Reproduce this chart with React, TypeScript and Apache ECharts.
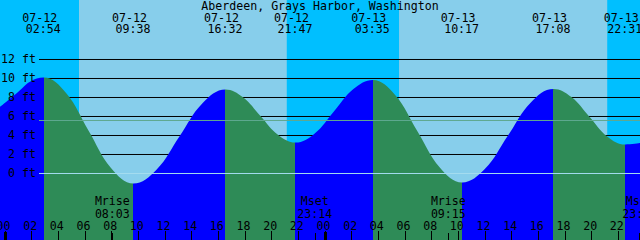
import React, { useEffect, useRef } from 'react';
import * as echarts from 'echarts';

// ---- data ----
const TITLE = 'Aberdeen, Grays Harbor, Washington';
const DATES = ['07-12', '07-13'];

// tide extremes
const TIDE_DAY = [0, 0, 0, 0, 1, 1, 1, 1];
const TIDE_CLOCK = ['02:54', '09:38', '16:32', '21:47', '03:35', '10:17', '17:08', '22:31'];
const TIDE_FT = [10.1, -1.05, 8.85, 3.25, 9.85, -0.95, 8.9, 3.05];
const TIDE_KIND = ['high', 'low', 'high', 'low', 'high', 'low', 'high', 'low'];

// further readings of the curve (hours from 07-12 00:00, feet)
const CURVE_T = [
  -0.375, 1.0, 1.875,
  4.58, 6.27, 7.95,
  11.36, 13.08, 14.81,
  17.85, 19.16, 20.47,
  23.23, 24.68, 26.13,
  29.26, 30.93, 32.61,
  36.0, 37.71, 39.42,
  42.48, 43.83, 45.17,
  47.625,
];
const CURVE_FT = [
  7.0, 8.6, 9.66,
  8.47, 4.5, 0.58,
  0.4, 3.9, 7.4,
  8.03, 6.05, 4.07,
  4.21, 6.55, 8.89,
  8.27, 4.45, 0.63,
  0.49, 3.97, 7.46,
  8.05, 5.98, 3.9,
  3.2,
];

// sun (day / night bands)
const SUN_DAY = [0, 0, 1, 1];
const SUN_CLOCK = ['05:33', '21:08', '05:34', '21:10'];

// moon events
const MOON_LABEL = ['Mrise', 'Mset', 'Mrise', 'Mset'];
const MOON_DAY = [0, 0, 1, 1];
const MOON_CLOCK = ['08:03', '23:14', '09:15', '23:36'];

// axis ticks
const HOUR_TICKS = [0, 2, 4, 6, 8, 10, 12, 14, 16, 18, 20, 22, 24, 26, 28, 30, 32, 34, 36, 38, 40, 42, 44, 46, 48];
const MIDNIGHT_TICKS = [0, 24];
const FT_TICKS = [0, 2, 4, 6, 8, 10, 12];
const GRID_FT = [2, 4, 6, 8, 10, 12];
const MEAN_FT = 5.58;
const DATUM_FT = 0;

// ---- layout / style constants ----
const X_MIN = -0.375;
const X_MAX = 47.625;
const Y_MIN = -7;
const Y_MAX = 18.263;
const LINE_START = 2.55; // hours, where level lines begin (right of the ft labels)
const FONT = 'DejaVu Sans Mono';
const FS = 11.6;
const NIGHT = '#00bfff';
const DAY = '#87ceeb';
const RISE = '#0000ff';
const FALL = '#2e8b57';

const toH = (day: number, clock: string) => {
  const [h, m] = clock.split(':').map(Number);
  return day * 24 + h + m / 60;
};

const TIDE_T = TIDE_CLOCK.map((c, i) => toH(TIDE_DAY[i], c));
const SUN_T = SUN_CLOCK.map((c, i) => toH(SUN_DAY[i], c));
const MOON_T = MOON_CLOCK.map((c, i) => toH(MOON_DAY[i], c));

const curve: [number, number][] = [
  ...TIDE_T.map((t, i) => [t, TIDE_FT[i]] as [number, number]),
  ...CURVE_T.map((t, i) => [t, CURVE_FT[i]] as [number, number]),
].sort((a, b) => a[0] - b[0]);

// rising (blue) / falling (green) pieces
const pieces: any[] = [];
TIDE_T.forEach((t, i) => {
  const before = TIDE_KIND[i] === 'high' ? RISE : FALL;
  if (i === 0) pieces.push({ lt: t, color: before });
  else pieces.push({ gte: TIDE_T[i - 1], lt: t, color: before });
  if (i === TIDE_T.length - 1) pieces.push({ gte: t, color: TIDE_KIND[i] === 'high' ? FALL : RISE });
});

// day / night bands
const bandEdges = [X_MIN, ...SUN_T, X_MAX];
const bands: any[] = [];
for (let i = 0; i < bandEdges.length - 1; i++) {
  bands.push([
    { xAxis: bandEdges[i], itemStyle: { color: i % 2 === 0 ? NIGHT : DAY } },
    { xAxis: bandEdges[i + 1] },
  ]);
}

const findIdx = (arr: number[], v: number) => arr.findIndex((t) => Math.abs(t - v) < 1e-6);
const pad2 = (n: number) => String(n).padStart(2, '0');

const baseX = {
  type: 'value',
  min: X_MIN,
  max: X_MAX,
  axisLine: { show: false, onZero: false },
  splitLine: { show: false },
  z: 10,
};

const textBase = { fontFamily: FONT, fontSize: FS, color: '#000' };

const levelLine = (v: number, color: string, z: number) => ({
  type: 'line',
  data: [[LINE_START, v], [X_MAX, v]],
  silent: true,
  clip: false,
  symbol: 'none',
  z,
  lineStyle: { color, width: 1, type: 'solid' },
});

const gridSeries = GRID_FT.map((v) => levelLine(v, '#000', 2));
const TIDE_INDEX = 1 + gridSeries.length;

const option: any = {
  animation: false,
  backgroundColor: DAY,
  title: {
    text: TITLE,
    left: 'center',
    top: 0,
    padding: 0,
    textStyle: { ...textBase, fontWeight: 'normal', lineHeight: 11 },
    z: 20,
  },
  grid: { left: 0, right: 0, top: 0, bottom: 0, containLabel: false, outerBoundsMode: 'none' },
  xAxis: [
    {
      ...baseX,
      position: 'bottom',
      axisTick: { show: true, inside: true, length: 9, customValues: HOUR_TICKS, lineStyle: { color: '#000', width: 1 } },
      axisLabel: {
        show: true,
        inside: true,
        margin: 8,
        customValues: HOUR_TICKS,
        ...textBase,
        lineHeight: 12,
        padding: [0, 3, 0, 0],
        formatter: (v: number) => pad2(((Math.round(v) % 24) + 24) % 24),
      },
    },
    {
      ...baseX,
      position: 'bottom',
      axisTick: { show: true, inside: true, length: 8, customValues: MIDNIGHT_TICKS, lineStyle: { color: '#000', width: 3 } },
      axisLabel: { show: false },
    },
    {
      ...baseX,
      position: 'bottom',
      axisTick: { show: true, inside: true, length: 7, customValues: MOON_T, lineStyle: { color: '#000', width: 1 } },
      axisLabel: {
        show: true,
        inside: true,
        margin: 20,
        customValues: MOON_T,
        ...textBase,
        lineHeight: 12.5,
        formatter: (v: number) => {
          const i = findIdx(MOON_T, v);
          return i < 0 ? '' : MOON_LABEL[i] + '\n' + MOON_CLOCK[i];
        },
      },
    },
    {
      ...baseX,
      position: 'top',
      axisTick: { show: false },
      axisLabel: {
        show: true,
        inside: true,
        margin: 12,
        customValues: TIDE_T,
        ...textBase,
        lineHeight: 11,
        formatter: (v: number) => {
          const i = findIdx(TIDE_T, v);
          return i < 0 ? '' : `{d|${DATES[TIDE_DAY[i]]}}\n{t|${TIDE_CLOCK[i]}}`;
        },
        rich: {
          d: { ...textBase, lineHeight: 11, padding: [0, 8, 0, 0], align: 'center' },
          t: { ...textBase, lineHeight: 11, padding: [0, 1, 0, 0], align: 'center' },
        },
      },
    },
  ],
  yAxis: {
    type: 'value',
    min: Y_MIN,
    max: Y_MAX,
    position: 'left',
    z: 10,
    axisLine: { show: false, onZero: false },
    axisTick: { show: false },
    splitLine: { show: false },
    axisLabel: {
      show: true,
      inside: true,
      margin: 36,
      align: 'right',
      customValues: FT_TICKS,
      ...textBase,
      formatter: (v: number) => `${v} ft`,
    },
  },
  visualMap: {
    type: 'piecewise',
    show: false,
    dimension: 0,
    seriesIndex: TIDE_INDEX,
    pieces,
  },
  series: [
    {
      type: 'line',
      data: [],
      silent: true,
      markArea: { silent: true, data: bands, label: { show: false } },
    },
    ...gridSeries,
    {
      type: 'line',
      data: curve,
      z: 3,
      clip: false,
      smooth: 0.4,
      symbol: 'none',
      silent: true,
      lineStyle: { width: 0 },
      areaStyle: { opacity: 1, origin: 'start' },
    },
    levelLine(DATUM_FT, '#a4dcef', 4),
    levelLine(MEAN_FT, '#5fa890', 4),
  ],
};

export default function App() {
  const ref = useRef<HTMLDivElement>(null);
  useEffect(() => {
    const chart = echarts.init(ref.current!, null, { renderer: 'svg' });
    chart.setOption(option);
    return () => chart.dispose();
  }, []);
  return <div ref={ref} style={{ position: 'absolute', left: 0, top: 0, width: 640, height: 240 }} />;
}
